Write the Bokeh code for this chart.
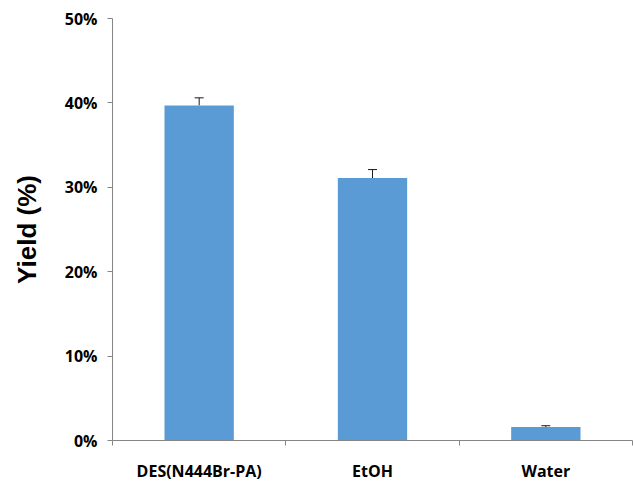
from bokeh.plotting import figure
from bokeh.models import ColumnDataSource, FixedTicker, Whisker, Range1d, LinearAxis
from bokeh.embed import file_html
from bokeh.resources import INLINE

categories = ["DES(N444Br-PA)", "EtOH", "Water"]
yields = [39.7, 31.1, 1.6]
errors = [0.9, 1.0, 0.15]
y_ticks = [0, 10, 20, 30, 40, 50]
y_tick_labels = ["0%", "10%", "20%", "30%", "40%", "50%"]

xs = [i + 0.5 for i in range(len(categories))]
src = ColumnDataSource(dict(
    x=xs, y=yields,
    base=yields,
    upper=[v + e for v, e in zip(yields, errors)],
))

p = figure(width=633, height=484, output_backend="svg", toolbar_location=None,
           x_range=Range1d(0, len(categories)), y_range=Range1d(0, 50),
           min_border_left=112, min_border_right=1, min_border_top=18, min_border_bottom=42,
           x_axis_type=None, y_axis_type=None)
p.outline_line_color = None
p.grid.grid_line_color = None
p.background_fill_color = "white"
p.border_fill_color = "white"

p.vbar(x="x", top="y", width=0.4, source=src, fill_color="#5B9BD5", line_color=None)
w = Whisker(source=src, base="x", lower="base", upper="upper", dimension="height",
            line_color="#1a1a1a", line_width=1)
w.lower_head = None
w.upper_head.size = 9
w.upper_head.line_color = "#1a1a1a"
p.add_layout(w)

axis_col = "#868686"
xa = LinearAxis(ticker=FixedTicker(ticks=xs, minor_ticks=list(range(len(categories) + 1))))
xa.major_label_overrides = {x: c for x, c in zip(xs, categories)}
xa.major_tick_out = 0
xa.major_tick_in = 0
xa.minor_tick_out = 5
xa.minor_tick_in = 0
xa.minor_tick_line_color = axis_col
xa.axis_line_color = axis_col
xa.major_label_text_font = "Open Sans"
xa.major_label_text_font_style = "bold"
xa.major_label_text_font_size = "16px"
xa.major_label_text_color = "black"
xa.major_label_standoff = 14
p.add_layout(xa, "below")

ya = LinearAxis(ticker=FixedTicker(ticks=y_ticks, minor_ticks=[]))
ya.major_label_overrides = {t: l for t, l in zip(y_ticks, y_tick_labels)}
ya.major_tick_out = 5
ya.major_tick_in = 0
ya.major_tick_line_color = axis_col
ya.axis_line_color = axis_col
ya.major_label_text_font = "Open Sans"
ya.major_label_text_font_style = "bold"
ya.major_label_text_font_size = "16px"
ya.major_label_text_color = "black"
ya.major_label_standoff = 10
ya.axis_label = "Yield (%)"
ya.axis_label_text_font = "Liberation Sans"
ya.axis_label_text_font_style = "bold"
ya.axis_label_text_font_size = "26px"
ya.axis_label_text_color = "black"
ya.axis_label_standoff = 20
p.add_layout(ya, "left")

open("out.html", "w").write(file_html(p, INLINE))
